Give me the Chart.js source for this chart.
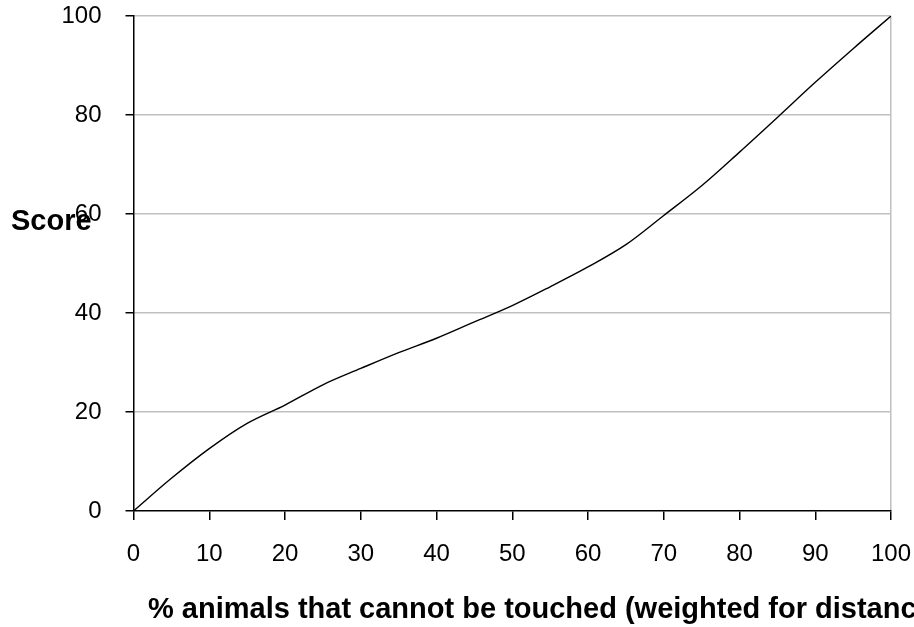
<!DOCTYPE html>
<html>
<head>
<meta charset="utf-8">
<script src="https://cdn.jsdelivr.net/npm/chart.js@4"></script>
<style>
  html, body { margin: 0; padding: 0; background: #fff; }
  #wrap { width: 914px; height: 627px; }
</style>
</head>
<body>
<div id="wrap"><canvas id="scoreChart"></canvas></div>
<script>
// % animals that cannot be touched (x) vs Score (y)
const pctUntouchable = [0, 5, 10, 15, 20, 25, 30, 35, 40, 45, 50, 55, 60, 65, 70, 75, 80, 85, 90, 95, 100];
const scoreValues = [0, 6.6, 12.6, 17.7, 21.4, 25.5, 28.8, 32.0, 34.9, 38.2, 41.5, 45.3, 49.3, 53.8, 59.7, 65.7, 72.5, 79.5, 86.6, 93.4, 100];
const xTicks = [0, 10, 20, 30, 40, 50, 60, 70, 80, 90, 100];
const yTicks = [0, 20, 40, 60, 80, 100];

const xTitle = '% animals that cannot be touched (weighted for distance)';
const yTitle = 'Score';

const tickFont = { family: 'Liberation Sans, Arial, sans-serif', size: 24 };

const titlePlugin = {
  id: 'axisTitles',
  afterDraw(chart) {
    const ctx = chart.ctx;
    ctx.save();
    ctx.fillStyle = '#000';
    ctx.font = 'bold 29px "Liberation Sans", Arial, sans-serif';
    ctx.textAlign = 'left';
    ctx.textBaseline = 'alphabetic';
    ctx.fillText(yTitle, 11, 230);
    ctx.fillText(xTitle, 148, 618);
    ctx.restore();
  }
};

// drop the label overhang padding chart.js adds, so the plot box matches the picture
function noPad(s) {
  s.paddingTop = 0;
  s.paddingBottom = 0;
  s.paddingLeft = 0;
  s.paddingRight = 0;
}

new Chart(document.getElementById('scoreChart'), {
  type: 'line',
  data: {
    datasets: [{
      data: pctUntouchable.map((x, i) => ({ x: x, y: scoreValues[i] })),
      borderColor: '#000',
      borderWidth: 1.4,
      pointRadius: 0,
      fill: false,
      cubicInterpolationMode: 'monotone'
    }]
  },
  options: {
    responsive: true,
    maintainAspectRatio: false,
    animation: false,
    layout: { padding: { left: 0, right: 23, top: 16, bottom: 0 } },
    plugins: { legend: { display: false }, tooltip: { enabled: false } },
    scales: {
      x: {
        type: 'linear',
        min: 0,
        max: 100,
        afterBuildTicks: s => { s.ticks = xTicks.map(v => ({ value: v })); },
        afterFit: s => { s.height = 116; noPad(s); },
        ticks: { color: '#000', font: tickFont, padding: 20, maxRotation: 0 },
        grid: {
          color: c => (c.tick && c.tick.value === 100) ? '#c0c0c0' : 'rgba(0,0,0,0)',
          tickColor: '#000',
          tickLength: 9,
          lineWidth: 1.5
        },
        border: { color: '#000', width: 1.5 }
      },
      y: {
        min: 0,
        max: 100,
        afterBuildTicks: s => { s.ticks = yTicks.map(v => ({ value: v })); },
        afterFit: s => { s.width = 133.5; noPad(s); },
        ticks: { color: '#000', font: tickFont, padding: 24 },
        grid: {
          color: c => (c.tick && c.tick.value === 0) ? 'rgba(0,0,0,0)' : '#c0c0c0',
          tickColor: '#000',
          tickLength: 8,
          lineWidth: 1.5
        },
        border: { color: '#000', width: 1.5 }
      }
    }
  },
  plugins: [titlePlugin]
});
</script>
</body>
</html>
